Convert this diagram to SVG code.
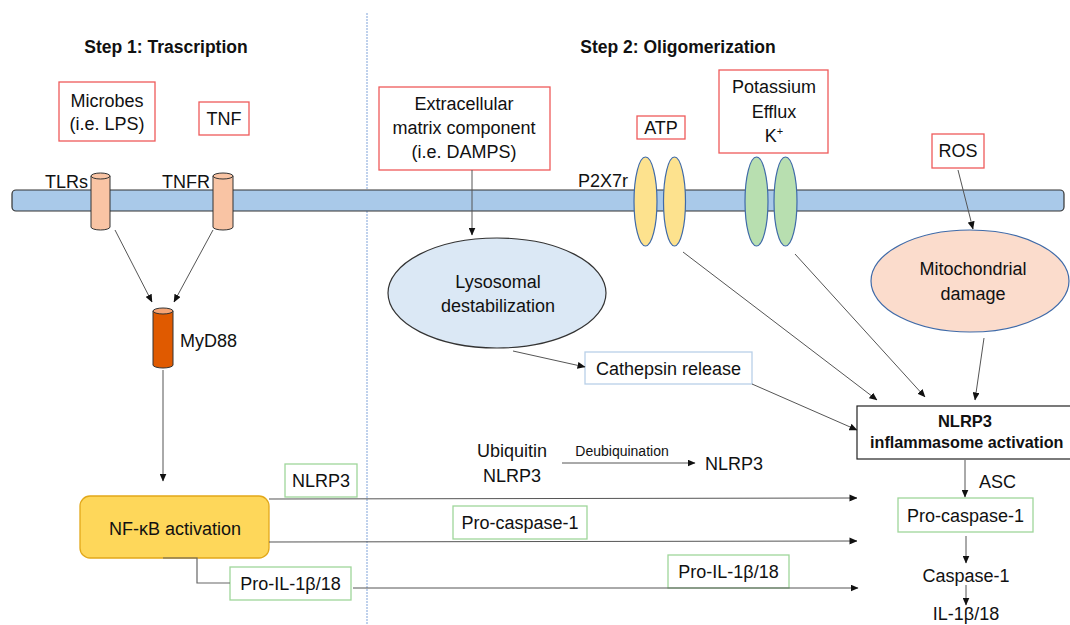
<svg xmlns="http://www.w3.org/2000/svg" width="1070" height="625" viewBox="0 0 1070 625">
<defs>
<marker id="ah" markerWidth="8" markerHeight="7" refX="7.5" refY="3.5" orient="auto" markerUnits="userSpaceOnUse">
<path d="M0,0 L8,3.5 L0,7 z" fill="#111"/>
</marker>
<style>
text{font-family:"Liberation Sans",Arial,sans-serif;fill:#111;}
.t{font-size:18px;}
.c{text-anchor:middle;}
.b{font-weight:bold;}
.red{fill:#fff;stroke:#ee5a5a;stroke-width:1.3;}
.grn{fill:#fff;stroke:#9fd69a;stroke-width:1.3;}
.conn{stroke:#555;stroke-width:1;fill:none;marker-end:url(#ah);}
.plain{stroke:#666;stroke-width:1.2;fill:none;}
.cyl{fill:#f9c4a4;stroke:#333;stroke-width:1;}
.yel{fill:#fde28e;stroke:#3f6aa8;stroke-width:1.2;}
.gr{fill:#b8dfb0;stroke:#3f6aa8;stroke-width:1.2;}
</style>
</defs>
<rect width="1070" height="625" fill="#fff"/>

<line x1="367" y1="13" x2="367" y2="625" stroke="#9db9e2" stroke-width="1.3" stroke-dasharray="2 1"/>

<g id="titles">
<text class="b c" x="166" y="53" font-size="17.5">Step 1: Trascription</text>
<text class="b c" x="678" y="53" font-size="17.5">Step 2: Oligomerization</text>
</g>

<g id="membrane">
<rect x="12" y="190" width="1052" height="21" rx="4" fill="#a9c9e9" stroke="#333" stroke-width="1.2"/>
</g>

<g id="microbes"><rect class="red" x="59" y="82" width="96" height="59"/>
<text class="t c" x="107" y="107">Microbes</text><text class="t c" x="107" y="130">(i.e. LPS)</text></g>
<g id="tnf"><rect class="red" x="199" y="102" width="50" height="33"/><text class="t c" x="224" y="125">TNF</text></g>

<g id="tlrs"><path class="cyl" d="M91,176 L91,227 A9.5,3 0 0 0 110,227 L110,176 Z"/><ellipse class="cyl" cx="100.5" cy="176" rx="9.5" ry="3"/>
<text class="t" x="45" y="188">TLRs</text></g>
<g id="tnfr"><path class="cyl" d="M213,176 L213,227 A10,3 0 0 0 233,227 L233,176 Z"/><ellipse class="cyl" cx="223" cy="176" rx="10" ry="3"/>
<text class="t" x="162" y="188">TNFR</text></g>

<g id="myd88"><path d="M153,311 L153,365 A10,3 0 0 0 173,365 L173,311 Z" fill="#e05a00" stroke="#333" stroke-width="1"/><ellipse cx="163" cy="311" rx="10" ry="3" fill="#f6a474" stroke="#333" stroke-width="1"/>
<text class="t" x="180" y="347">MyD88</text></g>

<g id="nfkb"><rect x="80" y="496" width="189" height="62" rx="10" fill="#fed75a" stroke="#e2a81a" stroke-width="1.3"/>
<text class="t c" x="175" y="535">NF-κB activation</text></g>

<g id="nlrp3-label"><rect class="grn" x="285" y="464" width="72" height="33"/><text class="t c" x="321" y="487">NLRP3</text></g>
<g id="proil-left"><rect class="grn" x="230" y="567" width="121" height="33"/><text class="t c" x="290.5" y="590">Pro-IL-1β/18</text></g>
<g id="procasp-mid"><rect class="grn" x="453" y="506" width="134" height="33"/><text class="t c" x="520" y="529">Pro-caspase-1</text></g>
<g id="proil-mid"><rect class="grn" x="668" y="555" width="121" height="33"/><text class="t c" x="728.5" y="578">Pro-IL-1β/18</text></g>

<g id="ecm"><rect class="red" x="379" y="87" width="171" height="83"/>
<text class="t c" x="464" y="110">Extracellular</text><text class="t c" x="464" y="134">matrix component</text><text class="t c" x="464" y="158">(i.e. DAMPS)</text></g>

<g id="lysosome"><ellipse cx="497" cy="293" rx="109" ry="55" fill="#dbe8f5" stroke="#333" stroke-width="1.2"/>
<text class="t c" x="498" y="288">Lysosomal</text><text class="t c" x="498" y="312">destabilization</text></g>

<g id="cathepsin"><rect x="585" y="352" width="167" height="32" fill="#fff" stroke="#b9d0e8" stroke-width="1.3"/><text class="t c" x="668.5" y="375">Cathepsin release</text></g>

<g id="p2x7r"><text class="t" x="578" y="187">P2X7r</text>
<ellipse class="yel" cx="645.5" cy="201.5" rx="11.5" ry="44.5"/><ellipse class="yel" cx="674.5" cy="201.5" rx="11" ry="44.5"/></g>
<g id="atp"><rect class="red" x="637" y="116" width="48" height="23"/><text class="t c" x="661" y="134">ATP</text></g>

<g id="k-channel"><ellipse class="gr" cx="756.5" cy="201.5" rx="11.5" ry="44.5"/><ellipse class="gr" cx="785.5" cy="201.5" rx="11.5" ry="44.5"/></g>
<g id="potassium"><rect class="red" x="719" y="70" width="109" height="83"/>
<text class="t c" x="774" y="93">Potassium</text><text class="t c" x="774" y="118">Efflux</text><text class="t c" x="774" y="142">K<tspan font-size="11" dy="-7">+</tspan></text></g>

<g id="ros"><rect class="red" x="932" y="134" width="52" height="34"/><text class="t c" x="958" y="157">ROS</text></g>

<g id="mito"><ellipse cx="970" cy="281" rx="99" ry="51" fill="#fbdccc" stroke="#3f6aa8" stroke-width="1.2"/>
<text class="t c" x="973" y="275">Mitochondrial</text><text class="t c" x="973" y="300">damage</text></g>

<g id="ubiquitin"><text class="t c" x="512" y="457">Ubiquitin</text><text class="t c" x="512" y="482">NLRP3</text>
<text class="c" x="622" y="456" font-size="14">Deubiquination</text>
<text class="t" x="705" y="470">NLRP3</text></g>

<g id="inflammasome"><rect x="857" y="406" width="220" height="53" fill="#fff" stroke="#222" stroke-width="1.2"/>
<text class="b c" x="965" y="427" font-size="16.5">NLRP3</text>
<text class="b" x="870" y="448" font-size="16.2">inflammasome activation</text></g>

<g id="asc"><text class="t" x="979" y="488">ASC</text></g>
<g id="procasp-right"><rect class="grn" x="898" y="498" width="135" height="34"/><text class="t c" x="965.5" y="522">Pro-caspase-1</text></g>
<g id="casp1"><text class="t c" x="966" y="582">Caspase-1</text></g>
<g id="il1b"><text class="t c" x="966" y="620">IL-1β/18</text></g>

<g id="connectors">
<line class="conn" x1="115" y1="230" x2="152" y2="302"/>
<line class="conn" x1="213" y1="230" x2="174" y2="302"/>
<line class="conn" x1="163" y1="370" x2="163" y2="481"/>
<line class="conn" x1="269" y1="499" x2="857" y2="498"/>
<line class="conn" x1="269" y1="542" x2="857" y2="541"/>
<polyline class="plain" points="163,558 197,558 197,583 230,583"/>
<line class="conn" x1="353" y1="588" x2="858" y2="588"/>
<line class="conn" x1="472" y1="170" x2="472" y2="235"/>
<line class="conn" x1="513" y1="351" x2="585" y2="367"/>
<line class="conn" x1="752" y1="384" x2="857" y2="430"/>
<line class="conn" x1="683" y1="252" x2="877" y2="400"/>
<line class="conn" x1="795" y1="254" x2="925" y2="397"/>
<line class="conn" x1="958" y1="170" x2="973" y2="229"/>
<line class="conn" x1="984" y1="338" x2="975" y2="400"/>
<line class="conn" x1="562" y1="463" x2="695" y2="463"/>
<line class="conn" x1="965" y1="460" x2="965" y2="497"/>
<line class="conn" x1="966" y1="536" x2="966" y2="563"/>
<line class="conn" x1="966" y1="585" x2="966" y2="605"/>
</g>
</svg>
